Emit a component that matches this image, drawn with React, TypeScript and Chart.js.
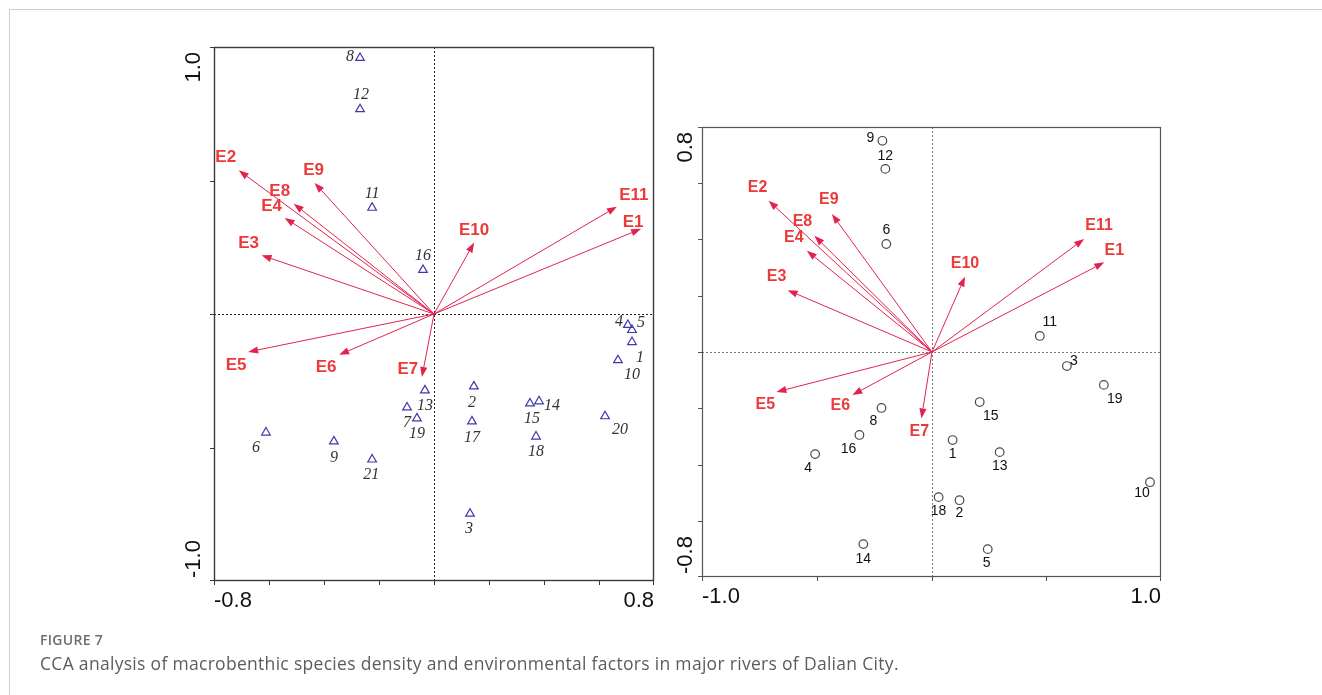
import React, { useEffect, useRef } from "react";
import { Chart, registerables } from "chart.js";

Chart.register(...registerables);

const PAGE_W = 1322;
const PAGE_H = 695;

// Environmental factor vectors (same CCA axes in both biplots)
const ENV_NAMES = ["E1", "E2", "E3", "E4", "E5", "E6", "E7", "E8", "E9", "E10", "E11"];
const ENV_X = [0.753, -0.71, -0.627, -0.543, -0.676, -0.345, -0.044, -0.51, -0.434, 0.146, 0.665];
const ENV_Y = [0.319, 0.538, 0.22, 0.36, -0.142, -0.153, -0.236, 0.413, 0.491, 0.268, 0.402];

// Species scores (left biplot)
const SPECIES_IDS = ["1", "2", "3", "4", "5", "6", "7", "8", "9", "10", "11", "12", "13", "14", "15", "16", "17", "18", "19", "20", "21"];
const SPECIES_X = [0.72, 0.145, 0.131, 0.705, 0.72, -0.611, -0.098, -0.269, -0.364, 0.669, -0.225, -0.269, -0.033, 0.382, 0.349, -0.04, 0.138, 0.371, -0.062, 0.622, -0.225];
const SPECIES_Y = [-0.105, -0.271, -0.748, -0.041, -0.06, -0.444, -0.35, 0.959, -0.477, -0.173, 0.398, 0.767, -0.286, -0.327, -0.335, 0.165, -0.402, -0.459, -0.391, -0.383, -0.545];

// Sampling site scores (right biplot)
const SITE_IDS = ["1", "2", "3", "4", "5", "6", "8", "9", "10", "11", "12", "13", "14", "15", "16", "18", "19"];
const SITE_X = [0.092, 0.122, 0.59, -0.507, 0.245, -0.197, -0.218, -0.214, 0.952, 0.472, -0.201, 0.297, -0.297, 0.21, -0.314, 0.031, 0.751];
const SITE_Y = [-0.313, -0.527, -0.05, -0.363, -0.701, 0.384, -0.199, 0.751, -0.463, 0.057, 0.651, -0.356, -0.683, -0.178, -0.295, -0.516, -0.117];

// Axis ticks and end labels
const LEFT_X_TICKS = [-0.8, -0.6, -0.4, -0.2, 0, 0.2, 0.4, 0.6, 0.8];
const LEFT_Y_TICKS = [-1, -0.5, 0, 0.5, 1];
const RIGHT_X_TICKS = [-1, -0.5, 0, 0.5, 1];
const RIGHT_Y_TICKS = [-0.8, -0.6, -0.4, -0.2, 0, 0.2, 0.4, 0.6, 0.8];
const LEFT_X_LABELS = ["-0.8", "0.8"];
const LEFT_Y_LABELS = ["-1.0", "1.0"];
const RIGHT_X_LABELS = ["-1.0", "1.0"];
const RIGHT_Y_LABELS = ["-0.8", "0.8"];

// Label placement (pixel offsets from each mark)
const SPECIES_LABEL_OFFSETS: [number, number][] = [
  [8, 16], [-2, 16], [-1, 15], [-9, -3], [9, -7], [-10, 15], [0, 15], [-10, -1], [0, 16], [14, 15],
  [0, -14], [1, -14], [0, 15], [13, 4], [2, 15], [0, -14], [0, 16], [0, 15], [0, 15], [15, 14], [-1, 15],
];
const SITE_LABEL_OFFSETS: [number, number][] = [
  [0, 14], [0, 13], [7, -5], [-7, 14], [-1, 14], [0, -14], [-8, 13], [-12, -3], [-8, 11], [10, -14],
  [0, -13], [0, 14], [0, 15], [11, 14], [-11, 14], [0, 14], [11, 14],
];
const ENV_LABEL_OFFSETS_LEFT: [number, number][] = [
  [-8, -7], [-13, -13], [-13, -12], [-13, -12], [-12, 13], [-13, 12], [-14, -8], [-14, -12], [-1, -13], [0, -12], [17, -11],
];
const ENV_LABEL_OFFSETS_RIGHT: [number, number][] = [
  [10, -12], [-11, -13], [-11, -14], [-13, -13], [-11, 13], [-12, 11], [-2, 13], [-12, -14], [-3, -14], [0, -13], [15, -13],
];

const ARROW_COLOR = "#e3234f";
const ENV_LABEL_COLOR = "#ec3a3a";

type Panel = {
  padding: { left: number; top: number; right: number; bottom: number };
  xRange: [number, number];
  yRange: [number, number];
  xTicks: number[];
  yTicks: number[];
  xLabels: string[];
  yLabels: string[];
  yLabelGap: number;
  ids: string[];
  xs: number[];
  ys: number[];
  labelOffsets: [number, number][];
  pointStyle: "triangle" | "circle";
  pointRadius: number;
  pointColor: string;
  labelFont: string;
  labelColor: string;
  envOffsets: [number, number][];
  envFont: string;
  frameColor: string;
  frameWidth: number;
  originColor: string;
};

function makeBiplotPlugin(p: Panel) {
  return {
    id: "biplot",
    beforeDatasetsDraw(chart: Chart) {
      const { ctx, chartArea: a } = chart;
      const x = chart.scales.x;
      const y = chart.scales.y;
      const ox = Math.round(x.getPixelForValue(0));
      const oy = Math.round(y.getPixelForValue(0));
      ctx.save();
      // dotted zero lines
      ctx.strokeStyle = p.originColor;
      ctx.lineWidth = 1;
      ctx.setLineDash([2, 2]);
      ctx.beginPath();
      ctx.moveTo(a.left, oy + 0.5);
      ctx.lineTo(a.right, oy + 0.5);
      ctx.moveTo(ox + 0.5, a.top);
      ctx.lineTo(ox + 0.5, a.bottom);
      ctx.stroke();
      ctx.setLineDash([]);

      // environmental vectors
      ENV_NAMES.forEach((name, i) => {
        const tx = x.getPixelForValue(ENV_X[i]);
        const ty = y.getPixelForValue(ENV_Y[i]);
        const ang = Math.atan2(ty - oy, tx - ox);
        const hl = 10;
        const hw = 3.6;
        const bx = tx - hl * Math.cos(ang);
        const by = ty - hl * Math.sin(ang);
        ctx.strokeStyle = ARROW_COLOR;
        ctx.lineWidth = 1;
        ctx.beginPath();
        ctx.moveTo(ox, oy);
        ctx.lineTo(bx, by);
        ctx.stroke();
        ctx.fillStyle = ARROW_COLOR;
        ctx.beginPath();
        ctx.moveTo(tx, ty);
        ctx.lineTo(bx - hw * Math.sin(ang), by + hw * Math.cos(ang));
        ctx.lineTo(bx + hw * Math.sin(ang), by - hw * Math.cos(ang));
        ctx.closePath();
        ctx.fill();

        const [dx, dy] = p.envOffsets[i];
        ctx.font = p.envFont;
        ctx.fillStyle = ENV_LABEL_COLOR;
        ctx.textAlign = "center";
        ctx.textBaseline = "middle";
        ctx.fillText(name, tx + dx, ty + dy);
      });
      ctx.restore();
    },
    afterDatasetsDraw(chart: Chart) {
      const { ctx, chartArea: a } = chart;
      const x = chart.scales.x;
      const y = chart.scales.y;
      ctx.save();

      // frame
      ctx.strokeStyle = p.frameColor;
      ctx.lineWidth = p.frameWidth;
      ctx.strokeRect(a.left + 0.5, a.top + 0.5, a.right - a.left - 1, a.bottom - a.top - 1);

      // tick marks
      ctx.lineWidth = 1;
      ctx.beginPath();
      p.xTicks.forEach((v) => {
        const px = Math.min(Math.round(x.getPixelForValue(v)) + 0.5, a.right - 0.5);
        ctx.moveTo(px, a.bottom);
        ctx.lineTo(px, a.bottom + 4);
      });
      p.yTicks.forEach((v) => {
        const py = Math.min(Math.round(y.getPixelForValue(v)) + 0.5, a.bottom - 0.5);
        ctx.moveTo(a.left - 4, py);
        ctx.lineTo(a.left, py);
      });
      ctx.stroke();

      // axis end labels
      ctx.fillStyle = "#111";
      ctx.font = '22px "Liberation Sans", Arial, sans-serif';
      ctx.textBaseline = "middle";
      ctx.textAlign = "left";
      ctx.fillText(p.xLabels[0], a.left, a.bottom + 20);
      ctx.textAlign = "right";
      ctx.fillText(p.xLabels[1], a.right, a.bottom + 20);

      const ly = a.left - p.yLabelGap;
      ctx.save();
      ctx.translate(ly, a.bottom - 3);
      ctx.rotate(-Math.PI / 2);
      ctx.textAlign = "left";
      ctx.fillText(p.yLabels[0], 0, 0);
      ctx.restore();
      ctx.save();
      ctx.translate(ly, a.top + 5);
      ctx.rotate(-Math.PI / 2);
      ctx.textAlign = "right";
      ctx.fillText(p.yLabels[1], 0, 0);
      ctx.restore();

      // mark labels
      ctx.font = p.labelFont;
      ctx.fillStyle = p.labelColor;
      ctx.textAlign = "center";
      ctx.textBaseline = "middle";
      p.ids.forEach((id, i) => {
        const [dx, dy] = p.labelOffsets[i];
        ctx.fillText(id, x.getPixelForValue(p.xs[i]) + dx, y.getPixelForValue(p.ys[i]) + dy);
      });
      ctx.restore();
    },
  };
}

const LEFT_PANEL: Panel = {
  padding: { left: 214, top: 47, right: PAGE_W - 654, bottom: PAGE_H - 581 },
  xRange: [-0.8, 0.8],
  yRange: [-1, 1],
  xTicks: LEFT_X_TICKS,
  yTicks: LEFT_Y_TICKS,
  xLabels: LEFT_X_LABELS,
  yLabels: LEFT_Y_LABELS,
  yLabelGap: 20,
  ids: SPECIES_IDS,
  xs: SPECIES_X,
  ys: SPECIES_Y,
  labelOffsets: SPECIES_LABEL_OFFSETS,
  pointStyle: "triangle",
  pointRadius: 5,
  pointColor: "#3f3aa8",
  labelFont: 'italic 16px "Liberation Serif", "Times New Roman", serif',
  labelColor: "#333",
  envOffsets: ENV_LABEL_OFFSETS_LEFT,
  envFont: 'bold 17px "Liberation Sans", Arial, sans-serif',
  frameColor: "#3a3a3a",
  frameWidth: 1.4,
  originColor: "#222",
};

const RIGHT_PANEL: Panel = {
  padding: { left: 702, top: 127, right: PAGE_W - 1161, bottom: PAGE_H - 577 },
  xRange: [-1, 1],
  yRange: [-0.8, 0.8],
  xTicks: RIGHT_X_TICKS,
  yTicks: RIGHT_Y_TICKS,
  xLabels: RIGHT_X_LABELS,
  yLabels: RIGHT_Y_LABELS,
  yLabelGap: 16,
  ids: SITE_IDS,
  xs: SITE_X,
  ys: SITE_Y,
  labelOffsets: SITE_LABEL_OFFSETS,
  pointStyle: "circle",
  pointRadius: 4.3,
  pointColor: "#4a4a4a",
  labelFont: '14px "Liberation Sans Narrow", "Arial Narrow", Arial, sans-serif',
  labelColor: "#111",
  envOffsets: ENV_LABEL_OFFSETS_RIGHT,
  envFont: 'bold 16px "Liberation Sans Narrow", "Arial Narrow", Arial, sans-serif',
  frameColor: "#555",
  frameWidth: 1.2,
  originColor: "#777",
};

function BiplotCanvas({ panel }: { panel: Panel }) {
  const ref = useRef<HTMLCanvasElement | null>(null);
  useEffect(() => {
    if (!ref.current) return;
    const chart = new Chart(ref.current, {
      type: "scatter",
      data: {
        datasets: [
          {
            data: panel.xs.map((v, i) => ({ x: v, y: panel.ys[i] })),
            pointStyle: panel.pointStyle,
            pointRadius: panel.pointRadius,
            pointBorderColor: panel.pointColor,
            pointBackgroundColor: "rgba(0,0,0,0)",
            pointBorderWidth: 1.2,
            showLine: false,
          },
        ],
      },
      options: {
        animation: false,
        responsive: false,
        events: [],
        layout: { padding: panel.padding, autoPadding: false },
        scales: {
          x: { type: "linear", min: panel.xRange[0], max: panel.xRange[1], display: false },
          y: { type: "linear", min: panel.yRange[0], max: panel.yRange[1], display: false },
        },
        plugins: { legend: { display: false }, tooltip: { enabled: false } },
      },
      plugins: [makeBiplotPlugin(panel)],
    });
    return () => chart.destroy();
  }, [panel]);
  return (
    <canvas
      ref={ref}
      width={PAGE_W}
      height={PAGE_H}
      style={{ position: "absolute", left: 0, top: 0, width: PAGE_W, height: PAGE_H }}
    />
  );
}

export default function App() {
  return (
    <div
      style={{
        position: "fixed",
        left: 0,
        top: 0,
        width: PAGE_W,
        height: PAGE_H,
        background: "#fff",
        overflow: "hidden",
      }}
    >
      <div
        style={{
          position: "absolute",
          left: 9,
          top: 9,
          right: 0,
          bottom: 0,
          borderTop: "1px solid #cfcfcf",
          borderLeft: "1px solid #cfcfcf",
        }}
      />
      <BiplotCanvas panel={LEFT_PANEL} />
      <BiplotCanvas panel={RIGHT_PANEL} />
      <div
        style={{
          position: "absolute",
          left: 40,
          top: 630,
          font: '600 14px "Open Sans", sans-serif',
          color: "#6e6e6e",
          lineHeight: "20px",
          letterSpacing: "0.3px",
        }}
      >
        FIGURE 7
      </div>
      <div
        style={{
          position: "absolute",
          left: 40,
          top: 651,
          font: '17.5px "Open Sans", sans-serif',
          color: "#5c5c5c",
          lineHeight: "24px",
          letterSpacing: "0.3px",
          whiteSpace: "nowrap",
        }}
      >
        CCA analysis of macrobenthic species density and environmental factors in major rivers of Dalian City.
      </div>
    </div>
  );
}
